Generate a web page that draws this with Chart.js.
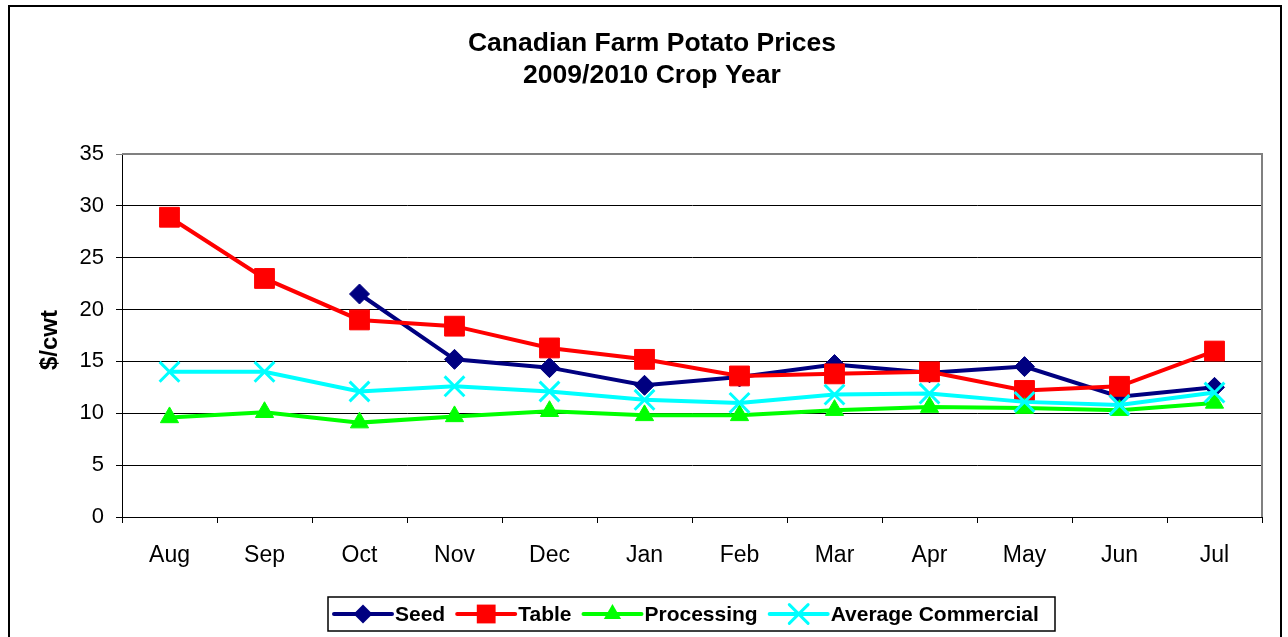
<!DOCTYPE html>
<html>
<head>
<meta charset="utf-8">
<script src="https://cdn.jsdelivr.net/npm/chart.js@4/dist/chart.umd.min.js"></script>
<style>
html,body{margin:0;padding:0;background:#fff;}
#wrap{width:1288px;height:637px;position:relative;}
</style>
</head>
<body>
<div id="wrap"><canvas id="c" width="1288" height="637"></canvas></div>
<script>
const titleLines = ["Canadian Farm Potato Prices", "2009/2010 Crop Year"];
const yAxisTitle = "$/cwt";
const months = ["Aug","Sep","Oct","Nov","Dec","Jan","Feb","Mar","Apr","May","Jun","Jul"];
const seed = [null, null, 21.5, 15.2, 14.4, 12.7, 13.5, 14.7, 13.9, 14.5, 11.6, 12.5];
const table = [28.9, 23.0, 19.0, 18.4, 16.3, 15.2, 13.6, 13.8, 14.0, 12.2, 12.6, 16.0];
const processing = [9.6, 10.1, 9.1, 9.7, 10.2, 9.8, 9.8, 10.3, 10.6, 10.5, 10.3, 11.0];
const avgCommercial = [14.0, 14.0, 12.1, 12.6, 12.1, 11.3, 11.0, 11.8, 11.9, 11.1, 10.8, 12.0];
const yTicks = [0, 5, 10, 15, 20, 25, 30, 35];

const FONT = "Arial, 'Liberation Sans', sans-serif";

function marker(ctx, style, x, y, r, color, bw) {
  ctx.fillStyle = color;
  ctx.strokeStyle = color;
  ctx.lineWidth = bw;
  ctx.beginPath();
  if (style === 'rect') { const s = r * Math.SQRT1_2; ctx.fillRect(x - s, y - s, 2*s, 2*s); }
  else if (style === 'rectRot') { ctx.moveTo(x, y-r); ctx.lineTo(x+r, y); ctx.lineTo(x, y+r); ctx.lineTo(x-r, y); ctx.closePath(); ctx.fill(); }
  else if (style === 'triangle') { ctx.moveTo(x, y-r); ctx.lineTo(x+r*0.866, y+r*0.5); ctx.lineTo(x-r*0.866, y+r*0.5); ctx.closePath(); ctx.fill(); }
  else { const s = r * Math.SQRT1_2; ctx.moveTo(x-s, y-s); ctx.lineTo(x+s, y+s); ctx.moveTo(x+s, y-s); ctx.lineTo(x-s, y+s); ctx.stroke(); }
}

const framePlugin = {
  id: 'frame',
  beforeDatasetsDraw(chart) {
    const ctx = chart.ctx, a = chart.chartArea;
    ctx.save();
    ctx.strokeStyle = '#808080';
    ctx.lineWidth = 2;
    ctx.beginPath();
    ctx.moveTo(a.left, a.top); ctx.lineTo(a.right, a.top); ctx.lineTo(a.right, a.bottom);
    ctx.stroke();
    ctx.restore();
  },
  afterDraw(chart) {
    const ctx = chart.ctx, a = chart.chartArea;
    ctx.save();
    ctx.strokeStyle = '#000';
    ctx.lineWidth = 2;
    ctx.strokeRect(9, 6, 1272, 640);
    ctx.fillStyle = '#000';
    ctx.textAlign = 'center';
    ctx.textBaseline = 'middle';
    ctx.font = "bold 26.5px " + FONT;
    ctx.fillText(titleLines[0], 652, 44);
    ctx.fillText(titleLines[1], 652, 76);
    ctx.save();
    ctx.translate(50, 340);
    ctx.rotate(-Math.PI / 2);
    ctx.font = "bold 24px " + FONT;
    ctx.fillText(yAxisTitle, 0, 0);
    ctx.restore();
    // legend
    ctx.font = "bold 21px " + FONT;
    const ds = chart.data.datasets;
    const segW = 58, gap1 = 3, gap2 = 12;
    const boxL = 328, boxR = 1055, boxT = 597, boxB = 631;
    ctx.lineWidth = 1.5;
    ctx.strokeStyle = '#000';
    ctx.strokeRect(boxL, boxT, boxR - boxL, boxB - boxT);
    let x = 334;
    const cy = (boxT + boxB) / 2;
    ds.forEach(d => {
      ctx.strokeStyle = d.borderColor;
      ctx.lineWidth = 4;
      ctx.lineCap = 'round';
      ctx.beginPath(); ctx.moveTo(x, cy); ctx.lineTo(x + segW, cy); ctx.stroke();
      marker(ctx, d.pointStyle, x + segW / 2, cy, d.pointRadius * 0.95, d.borderColor, d.pointBorderWidth);
      x += segW + gap1;
      ctx.fillStyle = '#000';
      ctx.textAlign = 'left';
      ctx.fillText(d.label, x, cy + 1);
      x += ctx.measureText(d.label).width + gap2;
    });
    ctx.restore();
  }
};

function mk(label, data, color, style, radius, order, bw) {
  return {
    label, data, order,
    borderColor: color, backgroundColor: color,
    pointBackgroundColor: color, pointBorderColor: color,
    borderWidth: 4, pointStyle: style, pointRadius: radius, pointHoverRadius: radius,
    pointBorderWidth: bw, tension: 0, spanGaps: false
  };
}

new Chart(document.getElementById('c'), {
  type: 'line',
  data: {
    labels: months,
    datasets: [
      mk('Seed', seed, '#000080', 'rectRot', 10, 4, 1),
      mk('Table', table, '#FF0000', 'rect', 14, 3, 1),
      mk('Processing', processing, '#00FF00', 'triangle', 10.5, 2, 1),
      mk('Average Commercial', avgCommercial, '#00FFFF', 'crossRot', 14, 1, 3)
    ]
  },
  plugins: [framePlugin],
  options: {
    responsive: false,
    animation: false,
    devicePixelRatio: 1,
    layout: { padding: { top: 154, right: 26, bottom: 0, left: 0 } },
    plugins: { legend: { display: false }, title: { display: false }, tooltip: { enabled: false } },
    scales: {
      x: {
        offset: true,
        afterFit: s => { s.height = 120; },
        grid: { offset: true, drawOnChartArea: false, drawTicks: true, tickLength: 6, color: '#000', lineWidth: 1 },
        border: { display: true, color: '#000', width: 1 },
        ticks: { color: '#000', font: { family: FONT, size: 23 }, padding: 19, maxRotation: 0, autoSkip: false }
      },
      y: {
        min: 0, max: 35,
        afterFit: s => { s.width = 122; },
        afterBuildTicks: s => { s.ticks = yTicks.map(v => ({ value: v })); },
        grid: {
          color: c => (c.tick && c.tick.value === 35) ? '#808080' : '#000',
          lineWidth: 1, drawTicks: true, tickLength: 6
        },
        border: { display: true, color: '#000', width: 1 },
        ticks: { color: '#000', font: { family: FONT, size: 22 }, padding: 12 }
      }
    }
  }
});
</script>
</body>
</html>
